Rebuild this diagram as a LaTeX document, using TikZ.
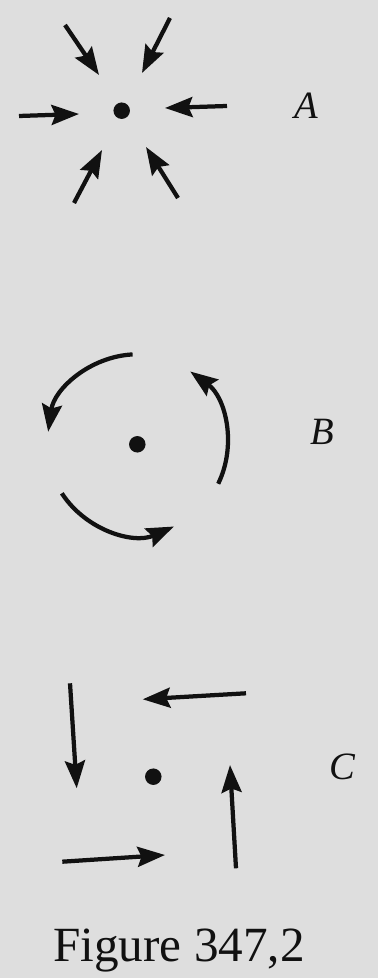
\documentclass[tikz,border=0pt]{standalone}
\usepackage{fontspec}
\setmainfont{Liberation Serif}
\usetikzlibrary{arrows.meta,calc}
\definecolor{paper}{RGB}{222,222,222}
\definecolor{ink}{RGB}{17,17,17}
\begin{document}
\begin{tikzpicture}[x=0.02cm,y=0.02cm,
  arr/.style={draw=ink,line width=0.085cm,-{Stealth[length=0.55cm,width=0.4cm,inset=0.08cm]}},
  dot/.style={circle,fill=ink,inner sep=0pt,minimum size=0.33cm},
  lab/.style={font=\fontsize{22}{26}\selectfont\itshape,anchor=base,text=ink},
  captext/.style={font=\fontsize{28}{32}\selectfont,anchor=base,text=ink}]
\fill[paper] (0,0) rectangle (378,978);
\useasboundingbox (0,0) rectangle (378,978);
% Panel A
\node[dot] (dA) at (121.7,867.3) {};
\coordinate (a1s) at (65,953);  \coordinate (a1e) at (99,903);
\coordinate (a2s) at (170,960); \coordinate (a2e) at (142,905);
\coordinate (a3s) at (19,862);  \coordinate (a3e) at (79,864);
\coordinate (a4s) at (227,872); \coordinate (a4e) at (165,870);
\coordinate (a5s) at (74,775);  \coordinate (a5e) at (102,828);
\coordinate (a6s) at (178,780); \coordinate (a6e) at (146,831);
\foreach \i in {1,...,6} \draw[arr] (a\i s) -- (a\i e);
\node[lab] (lA) at (306,859) {A};
% Panel B
\node[dot] (dB) at (137.3,533.7) {};
\draw[arr] ($(dB)+(93:90)$) arc[start angle=93,end angle=172,radius=90];
\draw[arr] ($(dB)+(-26:90)$) arc[start angle=-26,end angle=54,radius=90];
\draw[arr] ($(dB)+(213:90)$) arc[start angle=213,end angle=294,radius=90];
\node[lab] (lB) at (322,533) {B};
% Panel C
\node[dot] (dC) at (153.3,201.3) {};
\coordinate (c1s) at (70,294.7);   \coordinate (c1e) at (76.7,189.7);
\coordinate (c2s) at (246,284.7);  \coordinate (c2e) at (142.7,278.7);
\coordinate (c3s) at (62.3,116.3); \coordinate (c3e) at (165,123);
\coordinate (c4s) at (236,109.7);  \coordinate (c4e) at (230,213);
\foreach \i in {1,...,4} \draw[arr] (c\i s) -- (c\i e);
\node[lab] (lC) at (342,198) {C};
\node[captext] (caption) at (179,16) {Figure 347,2};
\end{tikzpicture}
\end{document}
